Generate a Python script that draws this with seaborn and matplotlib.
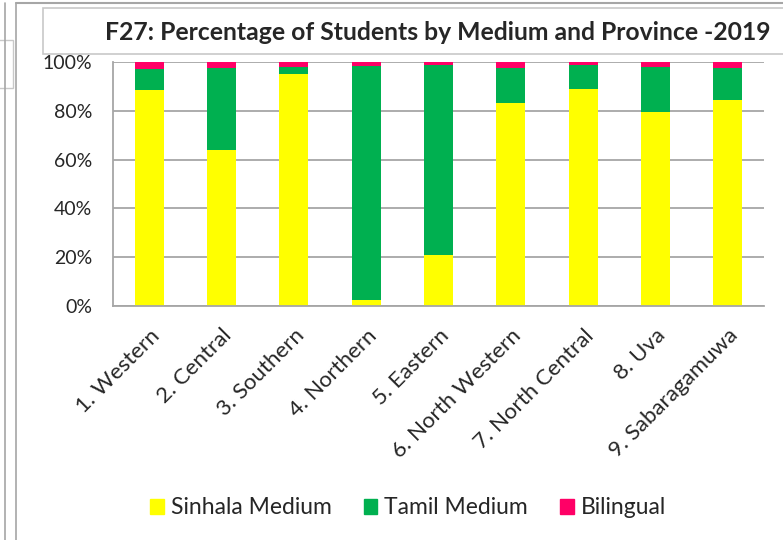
import matplotlib
matplotlib.use("Agg")
import matplotlib.pyplot as plt
from matplotlib.patches import Rectangle
from matplotlib.lines import Line2D
from matplotlib.ticker import FixedLocator, PercentFormatter
import seaborn as sns
import pandas as pd
import numpy as np

provinces = ["1. Western", "2. Central", "3. Southern", "4. Northern", "5. Eastern",
             "6. North Western", "7. North Central", "8. Uva", "9. Sabaragamuwa"]
sinhala = [88.5, 63.9, 95.2, 2.5, 20.8, 83.2, 88.8, 79.4, 84.6]
tamil = [8.6, 33.6, 2.9, 96.0, 78.1, 14.3, 9.8, 18.5, 12.8]
bilingual = [2.9, 2.5, 1.9, 1.5, 1.1, 2.5, 1.4, 2.1, 2.6]

col_sinhala = "#FFFF00"
col_tamil = "#00B050"
col_bi = "#FF0066"
grey = "#A6A6A6"

df = pd.DataFrame({"Province": provinces, "Sinhala Medium": sinhala,
                   "Tamil Medium": tamil, "Bilingual": bilingual})
df["top_tamil"] = df["Sinhala Medium"] + df["Tamil Medium"]
df["top_bi"] = df["top_tamil"] + df["Bilingual"]

sns.set_style("white")
plt.rcParams['font.family'] = ['Lato', 'DejaVu Sans']

fig = plt.figure(figsize=(7.83, 5.40), dpi=100)
ax = fig.add_axes([113/783, 1-306/540, (764-113)/783, (306-62)/540])

# stacked bars: draw the cumulative tops first, then overlay lower segments
sns.barplot(data=df, x="Province", y="top_bi", color=col_bi, width=0.4,
            saturation=1, linewidth=0, ax=ax)
sns.barplot(data=df, x="Province", y="top_tamil", color=col_tamil, width=0.4,
            saturation=1, linewidth=0, ax=ax)
sns.barplot(data=df, x="Province", y="Sinhala Medium", color=col_sinhala, width=0.4,
            saturation=1, linewidth=0, ax=ax)

ax.set_ylim(0, 100)
ax.set_xlim(-0.5, len(provinces) - 0.5)
ax.set_yticks([0, 20, 40, 60, 80, 100])
ax.yaxis.set_major_formatter(PercentFormatter(decimals=0))
ax.yaxis.grid(True, color=grey, linewidth=1.3)
ax.set_axisbelow(True)
ax.set_xlabel("")
ax.set_ylabel("")

for s in ["top", "right"]:
    ax.spines[s].set_visible(False)
for s in ["left", "bottom"]:
    ax.spines[s].set_color(grey)
    ax.spines[s].set_linewidth(1.3)

ax.tick_params(axis="y", length=6, color=grey, width=1.3, labelsize=14, pad=9)
ax.set_xticks(range(len(provinces)))
ax.set_xticklabels(provinces, rotation=45, ha="right", rotation_mode="anchor", fontsize=16)
ax.tick_params(axis="x", which="major", length=0, pad=14)
ax.xaxis.set_minor_locator(FixedLocator(np.arange(-0.5, len(provinces), 1.0)))
ax.tick_params(axis="x", which="minor", length=6, color=grey, width=1.3)

# legend in Excel order
handles = [Rectangle((0, 0), 1, 1, color=c) for c in [col_sinhala, col_tamil, col_bi]]
fig.legend(handles, ["Sinhala Medium", "Tamil Medium", "Bilingual"], loc="center",
           bbox_to_anchor=(408/783, 1-508/540), ncol=3, frameon=False, fontsize=16.5,
           handlelength=0.6, handleheight=0.6, handletextpad=0.3, columnspacing=1.4)

# chart frame bits
fig.add_artist(Line2D([16/783, 1], [1-3/540, 1-3/540], color=grey, lw=1.5))
fig.add_artist(Line2D([4.5/783, 4.5/783], [0, 1-3/540], color=grey, lw=1.2))
fig.add_artist(Line2D([16/783, 16/783], [0, 1-3/540], color=grey, lw=1.2))
fig.add_artist(Rectangle((-0.01, 1-88/540), 13/783 + 0.01, 48/540, transform=fig.transFigure,
                         facecolor="white", edgecolor="#C8C8C8", lw=1))
fig.add_artist(Rectangle((43/783, 1-54/540), 1, 46/540, transform=fig.transFigure,
                         facecolor="white", edgecolor="#C8C8C8", lw=1.2))
fig.text(438/783, 1-33/540, "F27: Percentage of Students by Medium and Province -2019",
         ha="center", va="center", fontsize=17.8, fontweight="bold")

fig.savefig("out.png", dpi=100)
